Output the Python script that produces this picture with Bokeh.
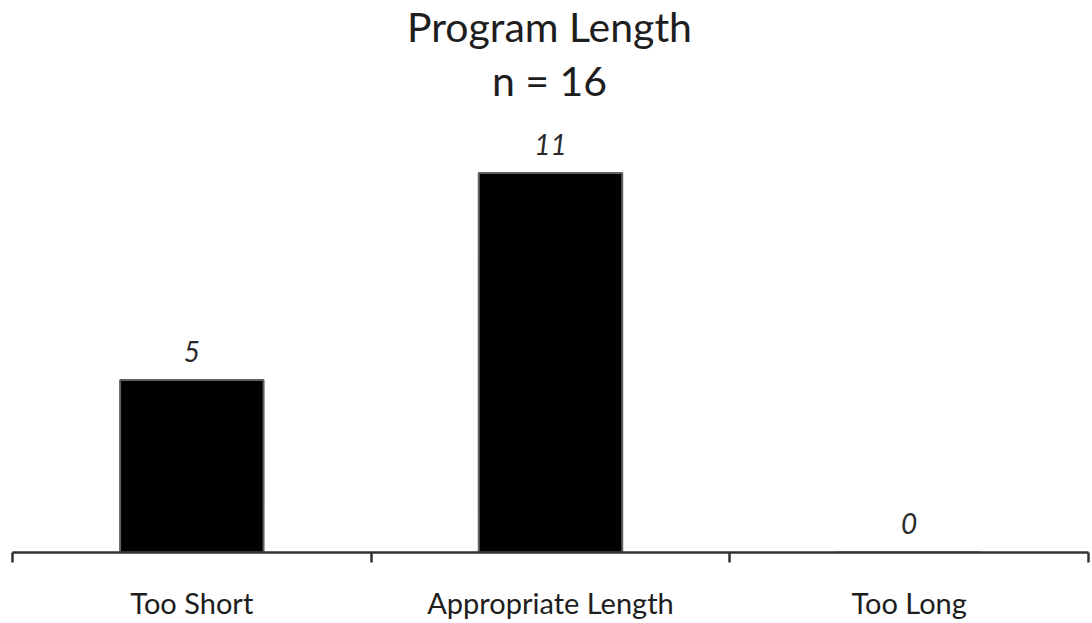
from bokeh.plotting import figure
from bokeh.models import (Range1d, LinearAxis, FixedTicker, Label, ColumnDataSource, LabelSet)
from bokeh.core.properties import value
from bokeh.embed import file_html
from bokeh.resources import INLINE

categories = ["Too Short", "Appropriate Length", "Too Long"]
counts = [5, 11, 0]
count_labels = [str(c) for c in counts]
title_text = "Program Length"
subtitle_text = "n = 16"

FONT = "Lato"
TEXT = "#1e1e1e"

n = len(categories)
centers = [i + 0.5 for i in range(n)]
bounds = list(range(n + 1))

src = ColumnDataSource(dict(x=centers, count=counts, label=count_labels))

p = figure(width=1092, height=623, x_range=Range1d(0, n), y_range=Range1d(0, 16.0),
           output_backend="svg", toolbar_location=None, title=None,
           x_axis_location=None, y_axis_location=None,
           min_border_left=12, min_border_right=4, min_border_top=0, min_border_bottom=71,
           outline_line_color=None)
p.xgrid.grid_line_color = None
p.ygrid.grid_line_color = None

# two-line title, positioned in screen pixels relative to the plot frame
p.add_layout(Label(x=537, y=526, x_units="screen", y_units="screen", text=title_text,
                   text_align="center", text_baseline="alphabetic", text_font=FONT,
                   text_font_size="41px", text_color=TEXT))
p.add_layout(Label(x=537, y=472, x_units="screen", y_units="screen", text=subtitle_text,
                   text_align="center", text_baseline="alphabetic", text_font=FONT,
                   text_font_size="41px", text_color=TEXT))

p.vbar(x="x", top="count", width=0.4, source=src, fill_color="black",
       line_color="#606060", line_width=2)

p.add_layout(LabelSet(x="x", y="count", text="label", source=src, text_align="center",
                      text_baseline="middle", y_offset=29, text_font=value(FONT),
                      text_font_size=value("28px"), text_font_style=value("italic"),
                      text_color=value("#2a2a2a")))

xaxis = LinearAxis(ticker=FixedTicker(ticks=centers, minor_ticks=bounds),
                   major_label_overrides={c: lab for c, lab in zip(centers, categories)},
                   axis_line_color="#333333", axis_line_width=2.5,
                   major_tick_line_color=None, major_tick_in=0, major_tick_out=0,
                   minor_tick_line_color="#333333", minor_tick_line_width=2.5,
                   minor_tick_in=0, minor_tick_out=10,
                   major_label_standoff=22, major_label_text_font=FONT,
                   major_label_text_font_size="29px", major_label_text_color=TEXT)
p.add_layout(xaxis, "below")

open("out.html", "w").write(file_html(p, INLINE))
